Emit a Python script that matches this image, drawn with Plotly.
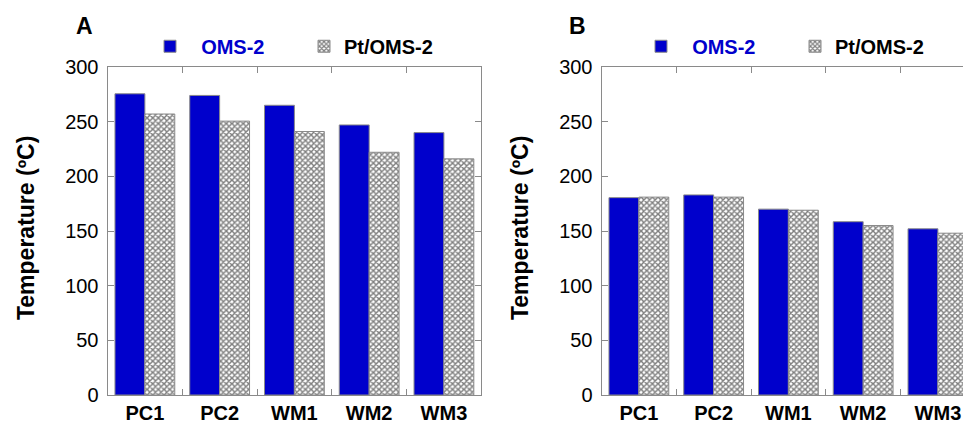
import plotly.graph_objects as go

# ---- data ----
categories = ["PC1", "PC2", "WM1", "WM2", "WM3"]
oms2_A = [275.5, 274, 265, 247, 240]
pt_oms2_A = [257, 250.5, 241, 222, 216]
oms2_B = [180.5, 183, 170, 158.5, 152]
pt_oms2_B = [181, 181, 169, 155, 148]
y_ticks = [0, 50, 100, 150, 200, 250, 300]
series_names = ["OMS-2", "Pt/OMS-2"]
panel_labels = ["A", "B"]
y_title = "Temperature (ºC)"

W, H = 963, 424
ML, MR, MT, MB = 0, 0, 67, 25
PH = H - MT - MB

BLUE = "#0000cc"
AXIS = "#8a8a8a"
FONT = "Liberation Sans, Arial, sans-serif"
PAD = "\u00a0\u00a0"


def px_x(p):
    return p / W


def px_y(p):
    return (H - MB - p) / PH


fig = go.Figure()

blue_name = "%s<span style='color:%s'>%s</span>" % (PAD, BLUE, series_names[0])
pt_name = series_names[1]

for vals_o, vals_p, xa, ya, lg in [
    (oms2_A, pt_oms2_A, "x", "y", "legend"),
    (oms2_B, pt_oms2_B, "x2", "y2", "legend2"),
]:
    fig.add_trace(go.Bar(
        x=categories, y=vals_o, name=blue_name, xaxis=xa, yaxis=ya, legend=lg,
        marker=dict(color=BLUE, line=dict(color=AXIS, width=1)),
    ))
    fig.add_trace(go.Bar(
        x=categories, y=vals_p, name=pt_name, xaxis=xa, yaxis=ya, legend=lg,
        marker=dict(color="white", line=dict(color=AXIS, width=1),
                    pattern=dict(shape="x", size=4, solidity=0.6,
                                 fgcolor="#000000", bgcolor="white")),
    ))

xcommon = dict(
    type="category", showline=True, linecolor=AXIS, linewidth=1,
    mirror="ticks", ticks="inside", tickson="boundaries", ticklen=6,
    tickcolor=AXIS, showgrid=False,
    tickfont=dict(family=FONT, size=20, color="black", weight="bold"),
)
ycommon = dict(
    range=[0, 300], tickvals=y_ticks, showline=True, linecolor=AXIS,
    linewidth=1, ticks="inside", ticklen=6, tickcolor=AXIS, showgrid=False,
    zeroline=False, ticklabelstandoff=4,
    tickfont=dict(family=FONT, size=20, color="black"),
)

spacing = (481.3 - 107.5) / 5.0
xB_right = -0.5 + (W - 601.5) / spacing

fig.update_layout(
    width=W, height=H,
    margin=dict(l=ML, r=MR, t=MT, b=MB),
    paper_bgcolor="white", plot_bgcolor="white",
    barmode="group", bargap=0.2, bargroupgap=0,
    font=dict(family=FONT, color="black"),
    xaxis=dict(xcommon, domain=[px_x(107.5), px_x(481.3)], range=[-0.5, 4.5], anchor="y"),
    yaxis=dict(ycommon, anchor="x", mirror="ticks"),
    xaxis2=dict(xcommon, domain=[px_x(601.5), 1.0], range=[-0.5, xB_right], anchor="y2"),
    yaxis2=dict(ycommon, anchor="x2", mirror=False),
    legend=dict(orientation="h", x=px_x(150), y=px_y(46), xanchor="left", yanchor="middle",
                entrywidth=109, bgcolor="rgba(0,0,0,0)",
                font=dict(family=FONT, size=20, color="black", weight="bold")),
    legend2=dict(orientation="h", x=px_x(641), y=px_y(46), xanchor="left", yanchor="middle",
                 entrywidth=109, bgcolor="rgba(0,0,0,0)",
                 font=dict(family=FONT, size=20, color="black", weight="bold")),
    showlegend=True,
)

annots = []
for lab, xp in zip(panel_labels, [84, 577]):
    annots.append(dict(text="<b>%s</b>" % lab, x=px_x(xp), y=px_y(25), xref="paper", yref="paper",
                       xanchor="center", yanchor="middle", showarrow=False,
                       font=dict(family=FONT, size=23, color="black")))
for xp in [26, 520]:
    annots.append(dict(text="<b>%s</b>" % y_title, x=px_x(xp), y=px_y(230), xref="paper", yref="paper",
                       xanchor="center", yanchor="middle", showarrow=False, textangle=-90,
                       font=dict(family=FONT, size=23, color="black")))
fig.update_layout(annotations=annots)

fig.write_html("out.html")
